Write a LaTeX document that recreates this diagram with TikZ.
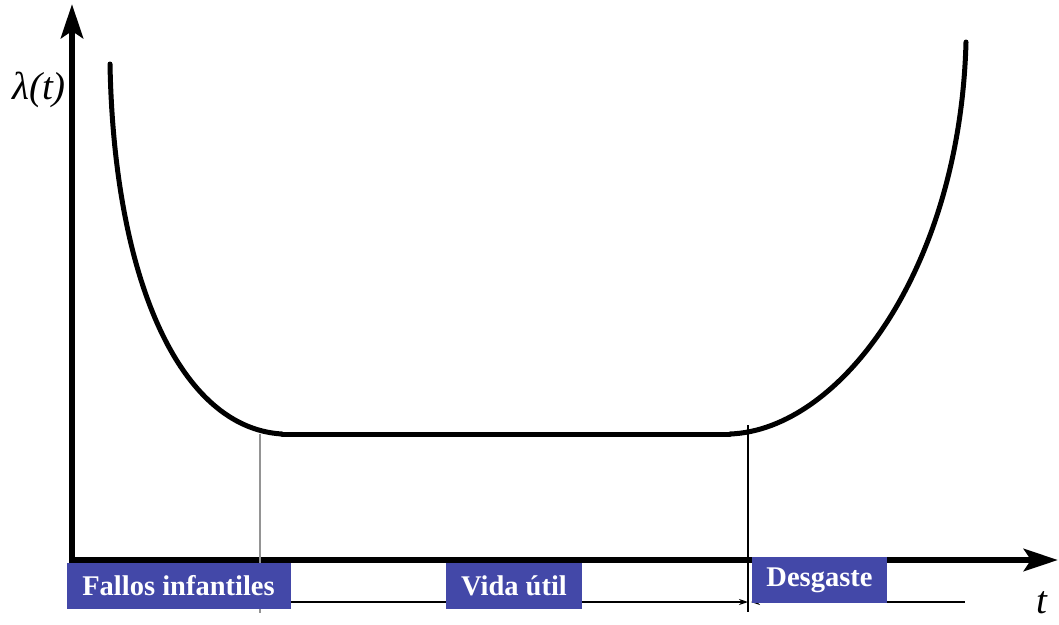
\documentclass[tikz,border=0pt]{standalone}
\usepackage{fontspec}
\setmainfont{Liberation Serif}
\usetikzlibrary{arrows.meta}
\definecolor{boxblue}{RGB}{67,72,168}
\tikzset{
  axis/.style={line width=6.5pt,-{Stealth[length=34pt,width=22pt,inset=7pt]}},
  curve/.style={line width=5pt,line cap=round},
  phase/.style={fill=boxblue,text=white,font=\fontsize{28.5}{30}\selectfont\bfseries,inner sep=0pt,minimum height=46pt},
  span/.style={line width=1.2pt},
  axlabel/.style={font=\fontsize{39}{41}\selectfont\itshape,inner sep=0pt}
}
\begin{document}
\begin{tikzpicture}[x=1pt,y=-1pt]
\useasboundingbox (0,0) rectangle (1059,624);
% axes
\coordinate (O) at (72,560);
\coordinate (ytop) at (72,4);
\coordinate (xend) at (1058,560);
\draw[axis] (72,563) -- (ytop);
\draw[axis] (69,560) -- (xend);
\node[axlabel] (lam) at (39,90) {λ(t)};
\node[axlabel] (tl) at (1042,603) {t};
% phase separators
\coordinate (s1top) at (260,434);
\coordinate (s1bot) at (260,613);
\coordinate (s2top) at (748,425);
\coordinate (s2bot) at (748,612);
\draw[line width=1.8pt,color=black!42] (s1top) -- (s1bot);
\draw[line width=1.4pt] (s2top) -- (s2bot);
% bathtub curve
\coordinate (c0) at (110,64);
\coordinate (c1) at (282,434);
\coordinate (c2) at (730,434);
\coordinate (c3) at (966,42);
\draw[curve] (c0) .. controls (114,280) and (180,428) .. (c1);
\draw[curve] (c1) -- (c2);
\draw[curve] (c2) .. controls (840,430) and (960,270) .. (c3);
% spans
\coordinate (a1) at (260,602);
\coordinate (a2) at (748,602);
\coordinate (b1) at (751,602);
\coordinate (b2) at (965,602);
\draw[span,-{Stealth[length=9pt,width=6pt]}] (a1) -- (a2);
\draw[span,{Stealth[length=9pt,width=6pt]}-] (b1) -- (b2);
% phase labels
\node[phase,minimum width=224pt] (f) at (178.5,585.5) {Fallos infantiles};
\node[phase,minimum width=136pt] (v) at (514,585.5) {Vida útil};
\node[phase,minimum width=135pt] (d) at (819.5,580) {Desgaste};
\end{tikzpicture}
\end{document}
